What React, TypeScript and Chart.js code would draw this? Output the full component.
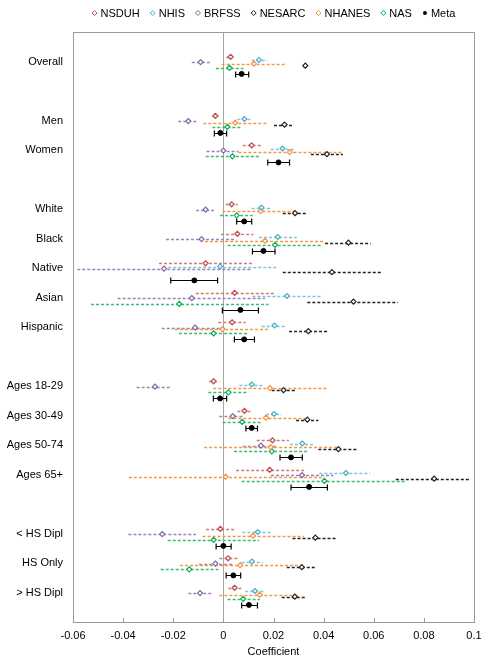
import React, { useEffect, useRef } from "react";
import { Chart, registerables } from "chart.js";

Chart.register(...registerables);

// ---------- DATA ----------
const categories = [
  "Overall", "Men", "Women", "White", "Black", "Native", "Asian", "Hispanic",
  "Ages 18-29", "Ages 30-49", "Ages 50-74", "Ages 65+", "< HS Dipl", "HS Only", "> HS Dipl",
];
// row index of each category on the (reversed) y axis; gaps separate groups
const categoryRows = [1, 3, 4, 6, 7, 8, 9, 10, 12, 13, 14, 15, 17, 18, 19];

const xTicks = [-0.06, -0.04, -0.02, 0, 0.02, 0.04, 0.06, 0.08, 0.1];

const seriesNames = ["NSDUH", "NHIS", "BRFSS", "NESARC", "NHANES", "NAS", "Meta"];

const nsduhEst = [0.0029, -0.0032, 0.0113, 0.0033, 0.0056, -0.0071, 0.0045, 0.0035, -0.0039, 0.0084, 0.0196, 0.0185, -0.0012, 0.0019, 0.0045];
const nsduhLo = [0.0011, -0.0044, 0.0077, 0.0009, -0.0009, -0.0257, -0.011, -0.002, -0.0057, 0.0056, 0.0133, 0.0051, -0.0069, -0.0016, 0.002];
const nsduhHi = [0.004, -0.002, 0.0149, 0.0057, 0.012, 0.0117, 0.0202, 0.0089, -0.0016, 0.0109, 0.0262, 0.0323, 0.0047, 0.0057, 0.0073];

const nhisEst = [0.0142, 0.0084, 0.0236, 0.0152, 0.0217, -0.0013, 0.0254, 0.0204, 0.0113, 0.0202, 0.0315, 0.0489, 0.0137, 0.0114, 0.0126];
const nhisLo = [0.0113, 0.0056, 0.0189, 0.0113, 0.0142, -0.022, 0.0116, 0.0153, 0.0064, 0.017, 0.0266, 0.0383, 0.0076, 0.0073, 0.0087];
const nhisHi = [0.0176, 0.0109, 0.0282, 0.0189, 0.0293, 0.0217, 0.0393, 0.0249, 0.016, 0.0233, 0.0359, 0.0586, 0.019, 0.0157, 0.0162];

const brfssEst = [-0.0091, -0.014, 0.0, -0.0071, -0.0087, -0.0237, -0.0126, -0.0113, -0.0273, 0.0037, 0.015, 0.0314, -0.0244, -0.0032, -0.0093];
const brfssLo = [-0.0126, -0.018, -0.0067, -0.0109, -0.0229, -0.0583, -0.0422, -0.0246, -0.0346, -0.0016, 0.0077, 0.019, -0.0379, -0.0097, -0.014];
const brfssHi = [-0.0053, -0.0106, 0.006, -0.0033, 0.0051, 0.0109, 0.0166, 0.0013, -0.0209, 0.0077, 0.0213, 0.0439, -0.0109, 0.0036, -0.0044];

const nesarcEst = [0.0327, 0.0244, 0.0413, 0.0286, 0.0499, 0.0433, 0.0519, 0.0339, 0.024, 0.0335, 0.0459, 0.0841, 0.0367, 0.0313, 0.0285];
const nesarcLo = [0.0318, 0.0202, 0.0349, 0.0237, 0.0406, 0.0237, 0.0335, 0.0262, 0.0193, 0.029, 0.0379, 0.0688, 0.0276, 0.0253, 0.0233];
const nesarcHi = [0.0335, 0.0276, 0.0477, 0.0333, 0.0588, 0.0628, 0.0696, 0.0417, 0.0293, 0.0379, 0.0535, 0.0988, 0.0453, 0.0366, 0.0333];

const nhanesEst = [0.0122, 0.0047, 0.0265, 0.0149, 0.0166, null, null, -0.0004, 0.0186, 0.017, 0.0189, 0.0009, 0.0118, 0.0067, 0.0145];
const nhanesLo = [-0.0007, -0.008, 0.006, -0.0004, -0.0073, null, null, -0.0193, -0.004, 0.002, -0.0077, -0.0377, -0.0083, -0.0173, -0.0016];
const nhanesHi = [0.0253, 0.0176, 0.0477, 0.029, 0.0406, null, null, 0.0184, 0.0415, 0.0326, 0.0453, 0.0399, 0.0322, 0.0309, 0.0302];

const nasEst = [0.0024, 0.0016, 0.0036, 0.0053, 0.0206, null, -0.0176, -0.0039, 0.002, 0.0075, 0.0193, 0.0403, -0.0039, -0.0136, 0.0079];
const nasLo = [-0.003, -0.0044, -0.007, -0.0013, 0.0017, null, -0.0528, -0.0177, -0.006, -0.0003, 0.0043, 0.0073, -0.0222, -0.025, 0.0017];
const nasHi = [0.008, 0.0071, 0.0142, 0.0117, 0.0395, null, 0.018, 0.0097, 0.0096, 0.0153, 0.0342, 0.0732, 0.0142, -0.002, 0.0146];

const metaEst = [0.0073, -0.0012, 0.022, 0.0083, 0.016, -0.0116, 0.0068, 0.0083, -0.0013, 0.0113, 0.027, 0.0342, 0.0, 0.004, 0.0102];
const metaLo = [0.0049, -0.0036, 0.0177, 0.0053, 0.0116, -0.021, -0.0004, 0.0044, -0.004, 0.009, 0.0226, 0.027, -0.0029, 0.0011, 0.0073];
const metaHi = [0.0101, 0.0013, 0.0264, 0.0113, 0.0206, -0.0023, 0.014, 0.0124, 0.0013, 0.0136, 0.0315, 0.0415, 0.0031, 0.0069, 0.0136];

// ---------- STYLE ----------
const seriesColors = ["#c0504d", "#4bacc6", "#8064a2", "#222222", "#f79646", "#00b050", "#000000"];
const barColors = ["#d07a77", "#7cc6da", "#9a84ba", "#222222", "#f79646", "#33c070", "#000000"];
const rowOffsets = [-0.16, -0.05, 0.02, 0.14, 0.075, 0.215, 0.42];

const FONT = "'Liberation Sans', Arial, Helvetica, sans-serif";
const FRAME = "#9a9a9a";

const seriesData = [
  [nsduhEst, nsduhLo, nsduhHi],
  [nhisEst, nhisLo, nhisHi],
  [brfssEst, brfssLo, brfssHi],
  [nesarcEst, nesarcLo, nesarcHi],
  [nhanesEst, nhanesLo, nhanesHi],
  [nasEst, nasLo, nasHi],
  [metaEst, metaLo, metaHi],
];

function buildDatasets() {
  return seriesNames.map((name, s) => {
    const [est, lo, hi] = seriesData[s];
    const pts: any[] = [];
    categoryRows.forEach((row, i) => {
      if (est[i] === null || est[i] === undefined) return;
      pts.push({ x: est[i], y: row + rowOffsets[s], lo: lo[i], hi: hi[i] });
    });
    const isMeta = name === "Meta";
    return {
      label: name,
      data: pts,
      showLine: false,
      pointStyle: isMeta ? "circle" : "rectRot",
      pointRadius: 2.5,
      pointBorderWidth: isMeta ? 1 : 1.2,
      pointBorderColor: seriesColors[s],
      pointBackgroundColor: isMeta ? "#000" : "#fff",
      borderColor: seriesColors[s],
      backgroundColor: isMeta ? "#000" : "#fff",
    };
  });
}

const errorBarPlugin = {
  id: "errorBars",
  beforeDatasetsDraw(chart: any) {
    const { ctx, scales } = chart;
    const xs = scales.x;
    const ys = scales.y;
    ctx.save();
    chart.data.datasets.forEach((ds: any, s: number) => {
      const isMeta = ds.label === "Meta";
      ctx.strokeStyle = barColors[s];
      ctx.lineWidth = isMeta ? 1.2 : 1.5;
      ctx.setLineDash(isMeta ? [] : [3, 2]);
      ds.data.forEach((p: any) => {
        const y = Math.round(ys.getPixelForValue(p.y)) + 0.5;
        const x1 = xs.getPixelForValue(p.lo);
        const x2 = xs.getPixelForValue(p.hi);
        ctx.beginPath();
        ctx.moveTo(x1, y);
        ctx.lineTo(x2, y);
        if (isMeta) {
          ctx.moveTo(x1, y - 3);
          ctx.lineTo(x1, y + 3);
          ctx.moveTo(x2, y - 3);
          ctx.lineTo(x2, y + 3);
        }
        ctx.stroke();
      });
    });
    ctx.restore();
  },
  afterDraw(chart: any) {
    const { ctx, chartArea, scales } = chart;
    const { left, right, top, bottom } = chartArea;
    ctx.save();
    // frame
    ctx.strokeStyle = FRAME;
    ctx.lineWidth = 1;
    ctx.setLineDash([]);
    ctx.strokeRect(Math.round(left) + 0.5, Math.round(top) + 0.5, Math.round(right - left), Math.round(bottom - top));
    // inner tick marks on x axis
    xTicks.forEach((v) => {
      const x = Math.round(scales.x.getPixelForValue(v)) + 0.5;
      ctx.beginPath();
      ctx.moveTo(x, Math.round(bottom));
      ctx.lineTo(x, Math.round(bottom) - 4);
      ctx.stroke();
    });
    // legend
    ctx.font = `11px ${FONT}`;
    ctx.textBaseline = "middle";
    ctx.textAlign = "left";
    const widths = seriesNames.map((n) => ctx.measureText(n).width);
    const itemW = widths.map((w) => 6 + w + 13);
    const total = itemW.reduce((a, b) => a + b, 0) - 13 + 3;
    let x = (left + right) / 2 - total / 2 + 3;
    const ly = 13;
    seriesNames.forEach((n, s) => {
      ctx.strokeStyle = seriesColors[s];
      ctx.fillStyle = seriesColors[s];
      ctx.lineWidth = 1;
      ctx.beginPath();
      if (n === "Meta") {
        ctx.arc(x, ly, 2, 0, Math.PI * 2);
        ctx.fill();
      } else {
        ctx.moveTo(x - 2.5, ly);
        ctx.lineTo(x, ly - 2.5);
        ctx.lineTo(x + 2.5, ly);
        ctx.lineTo(x, ly + 2.5);
        ctx.closePath();
        ctx.stroke();
      }
      ctx.fillStyle = "#000";
      ctx.fillText(n, x + 6, ly + 0.5);
      x += itemW[s];
    });
    ctx.restore();
  },
};

export default function App() {
  const canvasRef = useRef<HTMLCanvasElement | null>(null);

  useEffect(() => {
    if (!canvasRef.current) return;
    Chart.defaults.font.family = FONT;
    Chart.defaults.font.size = 11;
    Chart.defaults.color = "#000";

    const chart = new Chart(canvasRef.current, {
      type: "scatter",
      data: { datasets: buildDatasets() as any },
      options: {
        responsive: false,
        devicePixelRatio: 1,
        animation: false,
        layout: { padding: { top: 32, right: 12, left: 0, bottom: 0 } },
        plugins: {
          legend: { display: false },
          tooltip: { enabled: false },
        },
        scales: {
          x: {
            type: "linear",
            min: -0.06,
            max: 0.1,
            afterBuildTicks: (scale: any) => {
              scale.ticks = xTicks.map((v) => ({ value: v }));
            },
            ticks: {
              autoSkip: false,
              maxRotation: 0,
              padding: 7,
              color: "#000",
              font: { size: 11, family: FONT },
              callback: (v: any) => String(Number(Number(v).toFixed(2))),
            },
            grid: {
              drawTicks: false,
              lineWidth: 1,
              color: (c: any) => (c.tick && Math.abs(c.tick.value) < 1e-9 ? "#a6a6a6" : "rgba(0,0,0,0)"),
            },
            border: { display: false },
            title: {
              display: true,
              text: "Coefficient",
              color: "#000",
              font: { size: 11, family: FONT },
              padding: { top: 0, bottom: 1 },
            },
            afterFit: (scale: any) => {
              scale.height = 38;
              scale.paddingLeft = 0;
              scale.paddingRight = 0;
            },
          },
          y: {
            type: "linear",
            reverse: true,
            min: 0,
            max: 20,
            afterBuildTicks: (scale: any) => {
              scale.ticks = categoryRows.map((v) => ({ value: v }));
            },
            ticks: {
              autoSkip: false,
              padding: 10,
              color: "#000",
              font: { size: 11, family: FONT },
              callback: (v: any) => {
                const i = categoryRows.indexOf(Number(v));
                return i >= 0 ? categories[i] : "";
              },
            },
            grid: { display: false, drawTicks: false },
            border: { display: false },
            afterFit: (scale: any) => {
              scale.width = 73;
              scale.paddingTop = 0;
              scale.paddingBottom = 0;
            },
          },
        },
      },
      plugins: [errorBarPlugin],
    });
    return () => chart.destroy();
  }, []);

  return (
    <div style={{ position: "absolute", left: 0, top: 0, width: 486, height: 660 }}>
      <canvas ref={canvasRef} width={486} height={660} style={{ width: 486, height: 660, display: "block" }} />
    </div>
  );
}
